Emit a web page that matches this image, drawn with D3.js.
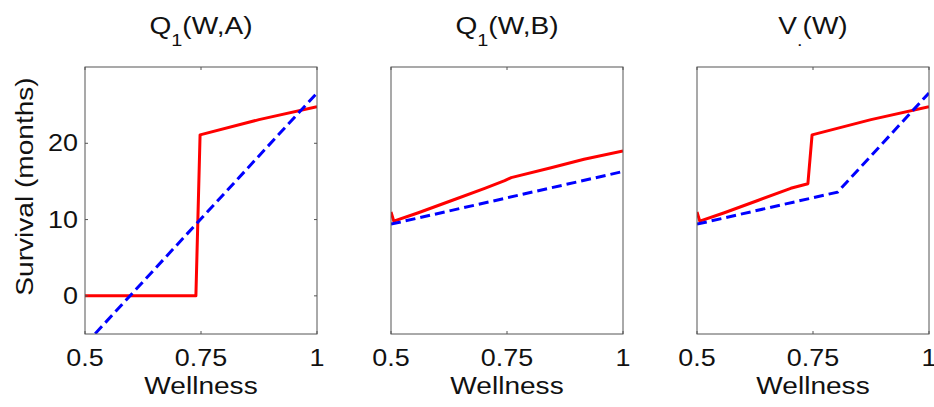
<!DOCTYPE html>
<html>
<head>
    <meta charset="utf-8" />
    <title>Survival vs wellness</title>
    <style>
        body {
            margin: 0;
            background-color: white;
        }

        text {
          font-family: "Liberation Sans", Arial, sans-serif;
          fill: #111;
        }

        .frame {
          fill: none;
          stroke: #555;
          stroke-width: 1;
        }

        .tick-mark {
          stroke: #555;
          stroke-width: 1;
        }
    </style>
    <script src="https://cdnjs.cloudflare.com/ajax/libs/d3/7.8.5/d3.min.js"></script>
</head>
<body>
    <script>
        // x ticks and y ticks
        var xTicks = [0.5, 0.75, 1];
        var yTicks = [0, 10, 20];

        // Q1(W,A)
        var wellA_red = [0.5, 0.739, 0.748, 0.875, 1];
        var survA_red = [0, 0, 21.1, 23.1, 24.8];
        var wellA_blue = [0.5, 1];
        var survA_blue = [-6.4, 26.6];

        // Q1(W,B)
        var wellB_red = [0.5, 0.506, 0.559, 0.631, 0.702, 0.745, 0.759, 0.845, 0.916, 1];
        var survB_red = [11.0, 9.8, 10.9, 12.5, 14.1, 15.1, 15.5, 16.8, 17.9, 19.0];
        var wellB_blue = [0.5, 1];
        var survB_blue = [9.4, 16.3];

        // V(W)
        var wellV_red = [0.5, 0.506, 0.559, 0.631, 0.702, 0.739, 0.748, 0.875, 1];
        var survV_red = [11.0, 9.8, 10.9, 12.5, 14.1, 14.7, 21.1, 23.1, 24.8];
        var wellV_blue = [0.5, 0.803, 1];
        var survV_blue = [9.4, 13.6, 26.6];

        var panels = [
            {title: ["Q", "1", "(W,A)"], left: 85, yLabels: true,
             red: [wellA_red, survA_red], blue: [wellA_blue, survA_blue]},
            {title: ["Q", "1", "(W,B)"], left: 391, yLabels: false,
             red: [wellB_red, survB_red], blue: [wellB_blue, survB_blue]},
            {title: ["V", ".", "(W)"], left: 697, yLabels: false,
             red: [wellV_red, survV_red], blue: [wellV_blue, survV_blue]}
        ];

        var width = 934,
            height = 407,
            marginTop = 67,
            plotW = 232,
            plotH = 267,
            stretch = 1.17;   // the original font is wider than Liberation Sans

        var svg = d3.select("body").append("svg")
                    .attr("width", width)
                    .attr("height", height);

        var x = d3.scaleLinear().domain([0.5, 1]).range([0, plotW]);
        var y = d3.scaleLinear().domain([-5, 30]).range([plotH, 0]);

        var line = d3.line()
            .x(d => x(d[0]))
            .y(d => y(d[1]));

        svg.append("defs").append("clipPath")
            .attr("id", "plot-clip")
            .append("rect")
            .attr("width", plotW)
            .attr("height", plotH);

        // text drawn at (tx, ty), widened along its own direction
        function wideText(parent, tx, ty, rot, anchor, size) {
            return parent.append("g")
                .attr("transform", "translate(" + tx + "," + ty + ") rotate(" + rot + ") scale(" + stretch + ",1)")
                .append("text")
                .attr("text-anchor", anchor)
                .style("font-size", size + "px");
        }

        panels.forEach(function(p, i) {
            var g = svg.append("g")
                .attr("transform", "translate(" + p.left + "," + marginTop + ")");

            // title with subscript
            var t = wideText(g, plotW / 2, -33, 0, "middle", 24);
            t.append("tspan").text(p.title[0]);
            t.append("tspan").attr("dy", 12).style("font-size", "17px").text(p.title[1]);
            t.append("tspan").attr("dy", -12).text(p.title[2]);

            var plot = g.append("g").attr("clip-path", "url(#plot-clip)");

            plot.append("path")
                .datum(d3.zip(p.red[0], p.red[1]))
                .attr("d", line)
                .attr("fill", "none")
                .attr("stroke", "#ff0000")
                .attr("stroke-width", 3)
                .attr("stroke-linejoin", "round");

            plot.append("path")
                .datum(d3.zip(p.blue[0], p.blue[1]))
                .attr("d", line)
                .attr("fill", "none")
                .attr("stroke", "#0000ff")
                .attr("stroke-width", 3)
                .attr("stroke-dasharray", "10,5");

            g.append("rect")
                .attr("class", "frame")
                .attr("width", plotW)
                .attr("height", plotH);

            // inward ticks, top and bottom
            xTicks.forEach(function(v) {
                g.append("line").attr("class", "tick-mark")
                    .attr("x1", x(v)).attr("x2", x(v))
                    .attr("y1", plotH).attr("y2", plotH - 3);
                g.append("line").attr("class", "tick-mark")
                    .attr("x1", x(v)).attr("x2", x(v))
                    .attr("y1", 0).attr("y2", 3);
                wideText(g, x(v), plotH + 32, 0, "middle", 23).text(v);
            });

            wideText(g, plotW / 2, plotH + 60, 0, "middle", 24).text("Wellness");

            if (p.yLabels) {
                yTicks.forEach(function(v) {
                    g.append("line").attr("class", "tick-mark")
                        .attr("x1", 0).attr("x2", 3)
                        .attr("y1", y(v)).attr("y2", y(v));
                    g.append("line").attr("class", "tick-mark")
                        .attr("x1", plotW).attr("x2", plotW - 3)
                        .attr("y1", y(v)).attr("y2", y(v));
                    wideText(g, -7, y(v) + 8, 0, "end", 23).text(v);
                });

                wideText(g, -52, plotH / 2 - 14, -90, "middle", 24)
                    .text("Survival (months)");
            }
        });
    </script>
</body>
</html>
